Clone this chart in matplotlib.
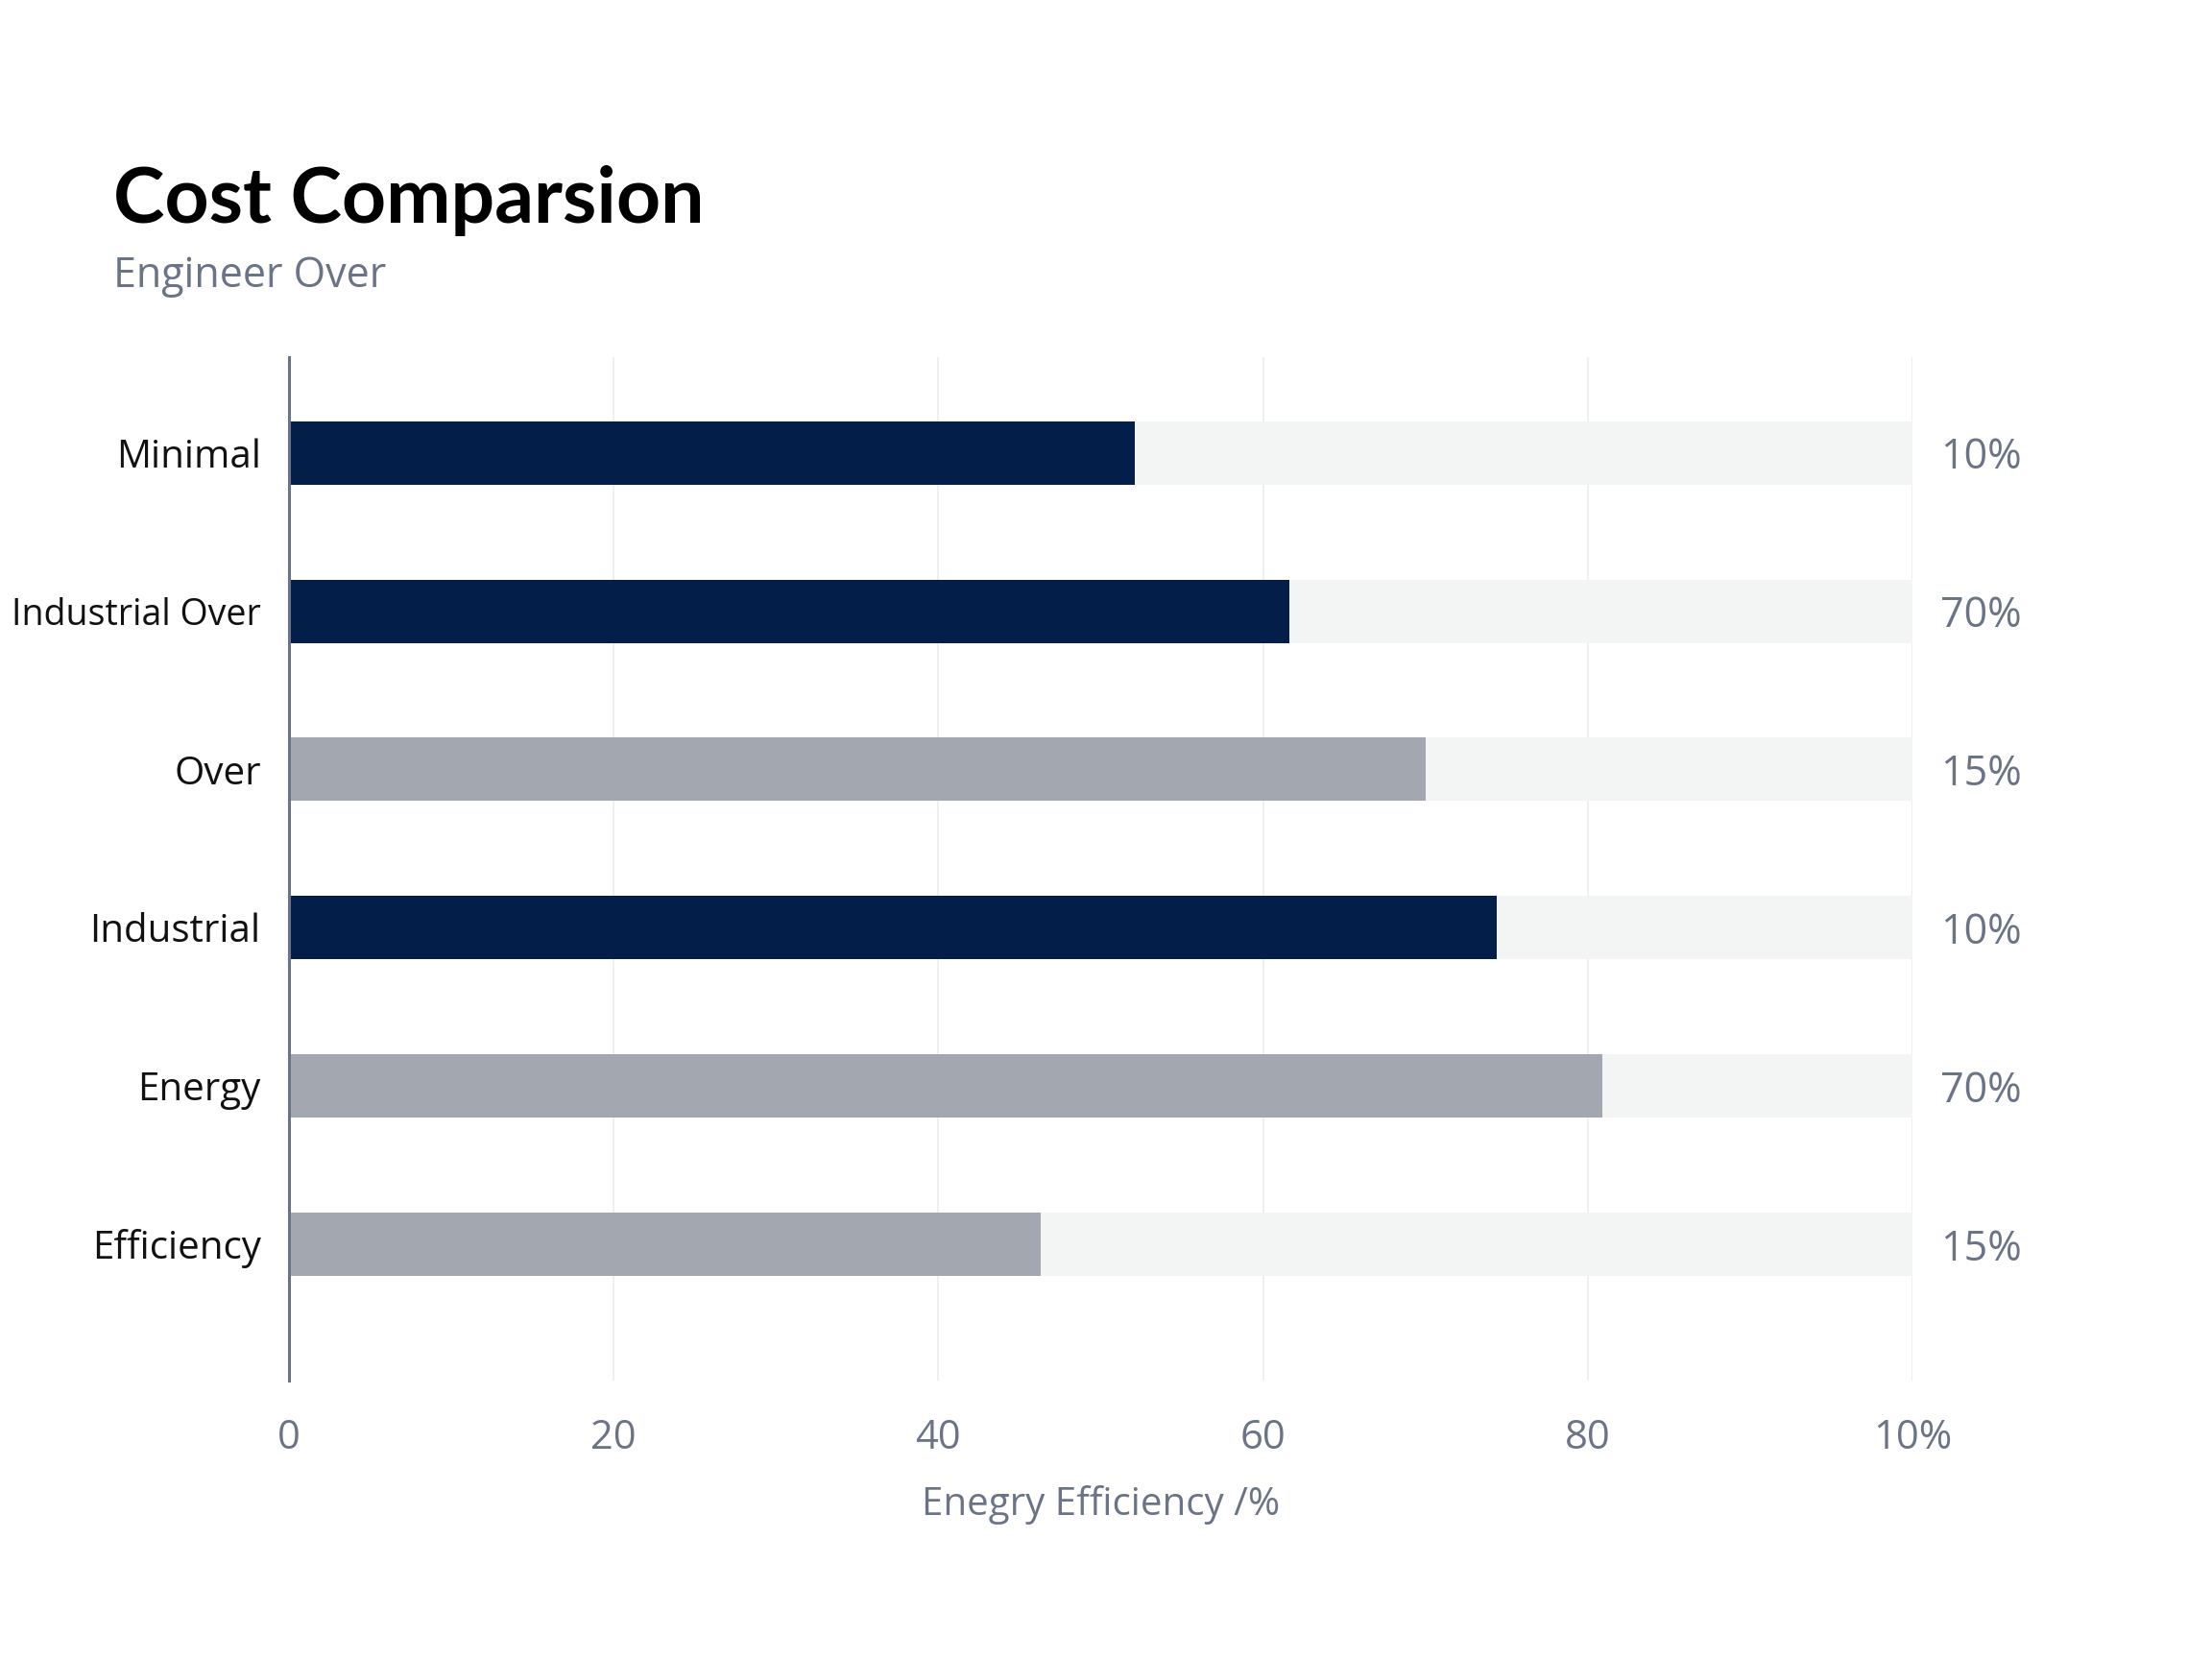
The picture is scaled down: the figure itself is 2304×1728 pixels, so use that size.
import matplotlib
matplotlib.use("Agg")
import matplotlib.pyplot as plt

categories = ["Minimal", "Industrial Over", "Over", "Industrial", "Energy", "Efficiency"]
values = [52.1, 61.6, 70.0, 74.4, 80.9, 46.3]
bar_colors = ["#041e4a", "#041e4a", "#a3a8b0", "#041e4a", "#a3a8b0", "#a3a8b0"]
right_labels = ["10%", "70%", "15%", "10%", "70%", "15%"]
xticks = [0, 20, 40, 60, 80, 100]
xtick_labels = ["0", "20", "40", "60", "80", "10%"]
track_max = 100

plt.rcParams['font.family'] = ['Open Sans', 'DejaVu Sans']

fig = plt.figure(figsize=(23.04, 17.28), dpi=100)
fig.patch.set_facecolor("white")
ax = fig.add_axes([0.1306, 0.1678, 0.8646 - 0.1306, 0.7847 - 0.1678])

y = list(range(len(categories)))
h = 0.40
ax.barh(y, [track_max] * len(categories), height=h, color="#f3f4f4", zorder=1)
ax.barh(y, values, height=h, color=bar_colors, zorder=2)

ax.set_ylim(5.863, -0.605)
ax.set_xlim(0, 100)
ax.set_yticks(y)
ax.set_yticklabels(categories, fontsize=29, color="#111111")
for lbl in ax.get_yticklabels():
    if len(lbl.get_text()) > 12:
        lbl.set_fontsize(27)
ax.set_xticks(xticks)
ax.set_xticklabels(xtick_labels, fontsize=30, color="#6b7486")
ax.tick_params(axis="y", length=0, pad=21)
ax.tick_params(axis="x", length=0, pad=28)
ax.grid(axis="x", color="#ececec", linewidth=1.2, zorder=0)
ax.set_axisbelow(True)
for s in ["top", "right", "bottom"]:
    ax.spines[s].set_visible(False)
ax.spines["left"].set_color("#6b7486")
ax.spines["left"].set_linewidth(2.2)
ax.spines["left"].set_zorder(3)

for yi, lab in zip(y, right_labels):
    ax.text(101.7, yi, lab, va="center_baseline", ha="left", fontsize=31, color="#6b7486")

ax.set_xlabel("Enegry Efficiency /%", fontsize=29, color="#6b7486", labelpad=20)

fig.text(0.051, 0.866, "Cost Comparsion", fontsize=58, fontweight="bold",
         family=["Lato", "DejaVu Sans"], color="#000000", ha="left", va="baseline")
fig.text(0.051, 0.827, "Engineer Over", fontsize=31, color="#6b7486",
         ha="left", va="baseline")

fig.savefig("out.png", dpi=100, facecolor="white")
